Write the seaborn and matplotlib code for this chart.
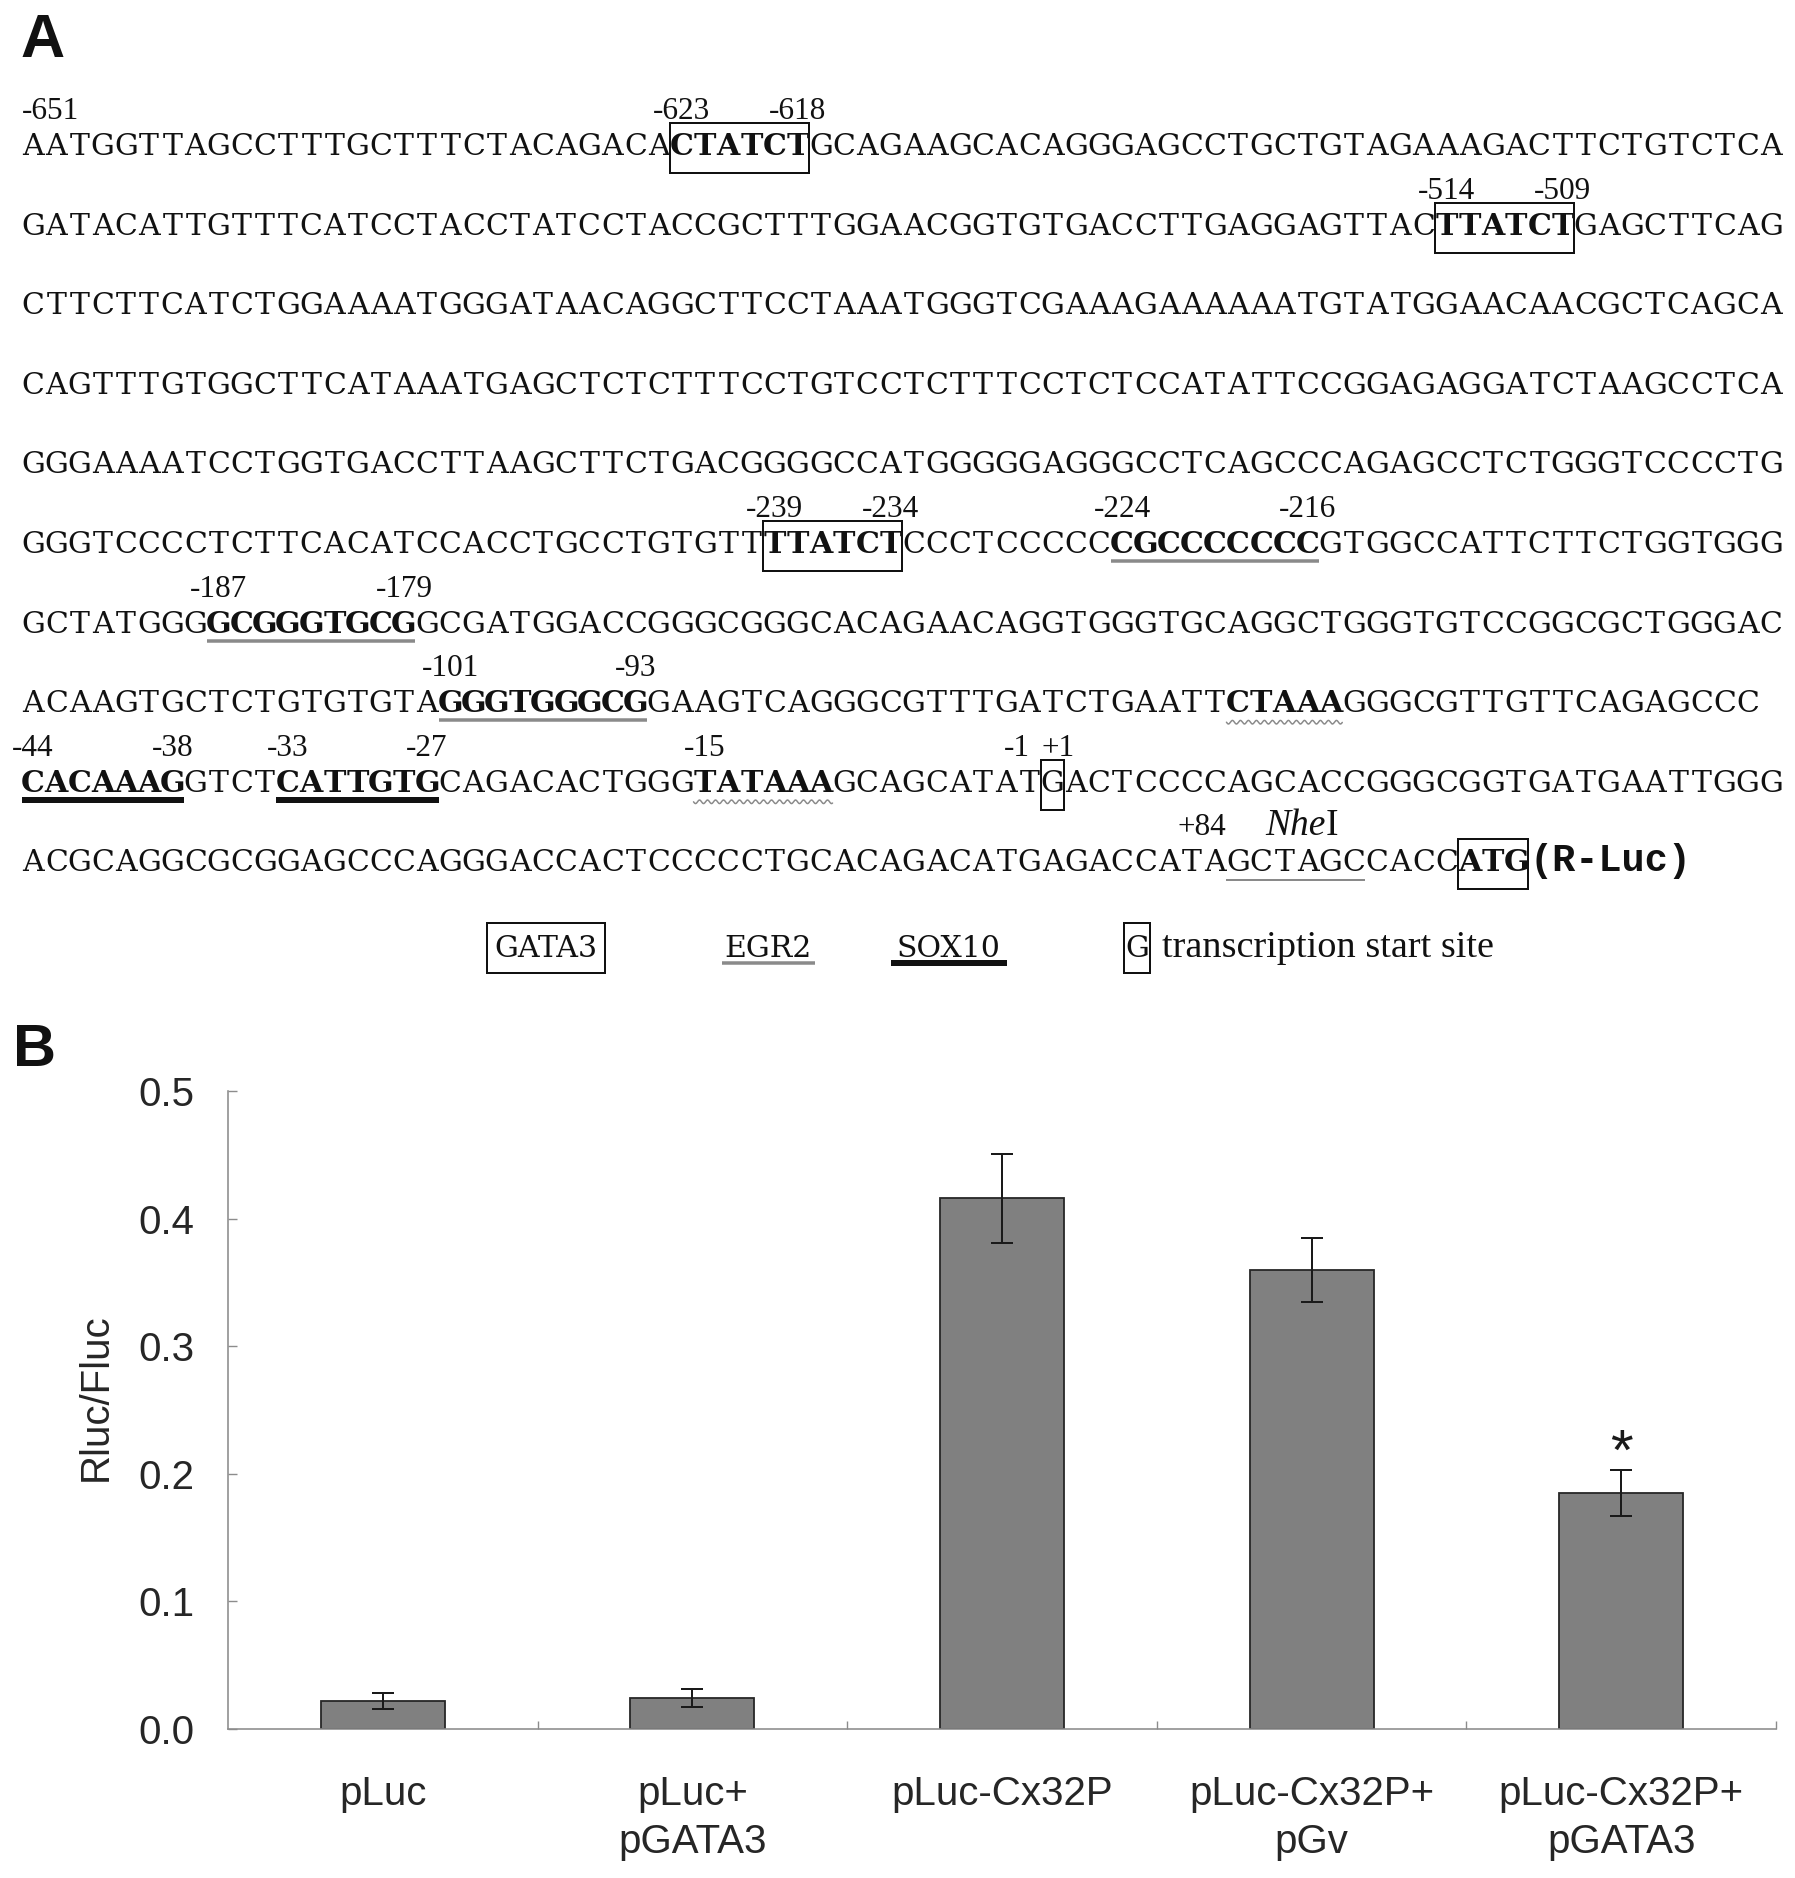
import numpy as np
import matplotlib
matplotlib.use('Agg')
import matplotlib.pyplot as plt
import seaborn as sns
from matplotlib.patches import Rectangle
from matplotlib.ticker import FixedLocator, FormatStrFormatter

# ---- panel A: Cx32 promoter sequence (one string per printed row) ----
seq_rows = [
    'AATGGTTAGCCTTTGCTTTCTACAGACACTATCTGCAGAAGCACAGGGAGCCTGCTGTAGAAAGACTTCTGTCTCA',
    'GATACATTGTTTCATCCTACCTATCCTACCGCTTTGGAACGGTGTGACCTTGAGGAGTTACTTATCTGAGCTTCAG',
    'CTTCTTCATCTGGAAAATGGGATAACAGGCTTCCTAAATGGGTCGAAAGAAAAAATGTATGGAACAACGCTCAGCA',
    'CAGTTTGTGGCTTCATAAATGAGCTCTCTTTCCTGTCCTCTTTCCTCTCCATATTCCGGAGAGGATCTAAGCCTCA',
    'GGGAAAATCCTGGTGACCTTAAGCTTCTGACGGGGCCATGGGGGAGGGCCTCAGCCCAGAGCCTCTGGGTCCCCTG',
    'GGGTCCCCTCTTCACATCCACCTGCCTGTGTTTTATCTCCCTCCCCCCGCCCCCCCGTGGCCATTCTTCTGGTGGG',
    'GCTATGGGGCGGGTGCGGCGATGGACCGGGCGGGCACAGAACAGGTGGGTGCAGGCTGGGTGTCCGGCGCTGGGAC',
    'ACAAGTGCTCTGTGTGTAGGGTGGGCGGAAGTCAGGGCGTTTGATCTGAATTCTAAAGGGCGTTGTTCAGAGCCC',
    'CACAAAGGTCTCATTGTGCAGACACTGGGTATAAAGCAGCATATGACTCCCCAGCACCGGGCGGTGATGAATTGGG',
    'ACGCAGGCGCGGAGCCCAGGGACCACTCCCCCTGCACAGACATGAGACCATAGCTAGCCACCATG',
]
luc_label = '(R-Luc)'

# sites: (row, first char index, length)
gata3_sites = [(0, 28, 6), (1, 61, 6), (5, 32, 6)]
egr2_sites = [(5, 47, 9), (6, 8, 9), (7, 18, 9)]
sox10_sites = [(8, 0, 7), (8, 11, 7)]
tata_sites = [(7, 52, 5), (8, 29, 6)]
tss_site = (8, 44, 1)
atg_site = (9, 62, 3)
nhe_site = (9, 52, 6)

# position numbers: (row, char index, label)
pos_labels = [
    (0, 0, '-651'), (0, 28, '-623'), (0, 33, '-618'),
    (1, 61, '-514'), (1, 66, '-509'),
    (5, 32, '-239'), (5, 37, '-234'), (5, 47, '-224'), (5, 55, '-216'),
    (6, 8, '-187'), (6, 16, '-179'),
    (7, 18, '-101'), (7, 26, '-93'),
    (8, 0, '-44'), (8, 6, '-38'), (8, 11, '-33'), (8, 17, '-27'),
    (8, 29, '-15'), (8, 43, '-1'), (8, 44, '+1'),
    (9, 52, '+84'),
]

legend_names = ['GATA3', 'EGR2', 'SOX10']

# ---- panel B: luciferase assay ----
constructs = ['pLuc', 'pLuc+\npGATA3', 'pLuc-Cx32P', 'pLuc-Cx32P+\npGv',
              'pLuc-Cx32P+\npGATA3']
ratio = [0.022, 0.024, 0.416, 0.360, 0.185]
ratio_err = [0.006, 0.007, 0.035, 0.025, 0.018]
significant = [False, False, False, False, True]

sns.set_theme(style='white')
plt.rcParams['font.family'] = ['Liberation Sans', 'DejaVu Sans']

fig = plt.figure(figsize=(17.95, 18.78), dpi=100)

# full-figure axes in pixel units for the sequence panel
axA = fig.add_axes([0, 0, 1, 1])
axA.set_xlim(0, 1795)
axA.set_ylim(1878, 0)
axA.axis('off')

X0, CW = 21.6, 23.17          # left edge and pitch of sequence characters
Y0, DY = 155, 79.6            # baseline of first row and row spacing
PX = 0.72                     # points per pixel at dpi 100
SEQ_FS = 21.6
NUM_FS = 22.5
seqfont = 'DejaVu Serif'
serif = 'Liberation Serif'
ink = '#111111'


def base(r):
    return Y0 + r * DY


def cx(i):
    return X0 + (i + 0.5) * CW


bold = set()
for r, s, n in gata3_sites + egr2_sites + sox10_sites + tata_sites + [atg_site]:
    for i in range(s, s + n):
        bold.add((r, i))

for r, row in enumerate(seq_rows):
    for i, ch in enumerate(row):
        axA.text(cx(i), base(r), ch, ha='center', va='baseline',
                 family=seqfont, fontsize=SEQ_FS, color=ink,
                 weight='bold' if (r, i) in bold else 'normal')
axA.text(X0 + len(seq_rows[-1]) * CW + 2, base(len(seq_rows) - 1), luc_label,
         ha='left', va='baseline', family='Liberation Mono',
         fontsize=CW / 0.6 * PX, weight='bold', color=ink)

# boxes (GATA3, TSS, ATG)
for r, s, n in gata3_sites + [tss_site, atg_site]:
    axA.add_patch(Rectangle((X0 + s * CW, base(r) - 32), n * CW, 50,
                            fill=False, ec=ink, lw=2 * PX))

# EGR2 gray underline, NheI thin underline
for r, s, n in egr2_sites:
    axA.plot([X0 + s * CW, X0 + (s + n) * CW], [base(r) + 8] * 2,
             color='#8a8a8a', lw=3.5 * PX, solid_capstyle='butt')
r, s, n = nhe_site
axA.plot([X0 + s * CW, X0 + (s + n) * CW], [base(r) + 9] * 2,
         color='#8a8a8a', lw=2 * PX, solid_capstyle='butt')

# SOX10 thick black underline
for r, s, n in sox10_sites:
    axA.plot([X0 + s * CW, X0 + (s + n) * CW], [base(r) + 8] * 2,
             color=ink, lw=6 * PX, solid_capstyle='butt')

# wavy underline for TATA-like boxes
for r, s, n in tata_sites:
    xs = np.linspace(X0 + s * CW, X0 + (s + n) * CW, 200)
    ys = base(r) + 10 + 1.8 * np.sin((xs - xs[0]) / 8.0 * 2 * np.pi)
    axA.plot(xs, ys, color='#8a8a8a', lw=1.5 * PX)

# position numbers
special = {'-651': ('left', 0.0), '-1': ('right', 0.5), '+1': ('left', 0.0),
           '+84': ('right', 0.0)}
for r, i, lab in pos_labels:
    ha, frac = special.get(lab, ('center', 0.5))
    axA.text(X0 + (i + frac) * CW, base(r) - 36, lab, ha=ha, va='baseline',
             family=serif, fontsize=NUM_FS, color=ink)

# NheI label
r, s, n = nhe_site
xm = X0 + (s + n / 2) * CW + 30
axA.text(xm, base(r) - 36, 'Nhe', ha='right', va='baseline', family=serif,
         style='italic', fontsize=27, color=ink)
axA.text(xm, base(r) - 36, 'I', ha='left', va='baseline', family=serif,
         fontsize=27, color=ink)

# legend row
LY = 957
leg_x = [488, 722, 891]
leg_w = [5 * CW, 4 * CW, 5 * CW]
for name, x, w in zip(legend_names, leg_x, leg_w):
    axA.text(x + w / 2, LY, name, ha='center', va='baseline',
             family=seqfont, fontsize=SEQ_FS, color=ink)
axA.add_patch(Rectangle((leg_x[0] - 1, LY - 34), leg_w[0] + 2, 50, fill=False,
                        ec=ink, lw=2 * PX))
axA.plot([leg_x[1], leg_x[1] + leg_w[1]], [LY + 6] * 2, color='#8a8a8a',
         lw=3.5 * PX, solid_capstyle='butt')
axA.plot([leg_x[2], leg_x[2] + leg_w[2]], [LY + 6] * 2, color=ink,
         lw=6 * PX, solid_capstyle='butt')
axA.text(1137, LY, 'G', ha='center', va='baseline', family=seqfont,
         fontsize=SEQ_FS, color=ink)
axA.add_patch(Rectangle((1124, LY - 34), 26, 50, fill=False, ec=ink,
                        lw=2 * PX))
axA.text(1162, LY, 'transcription start site', ha='left', va='baseline',
         family=serif, fontsize=27.5, color=ink)

# panel letters
axA.text(20, 57, 'A', ha='left', va='baseline', fontsize=44, weight='bold',
         family='Liberation Sans', color=ink)
axA.text(13, 1066, 'B', ha='left', va='baseline', fontsize=43, weight='bold',
         family='Liberation Sans', color=ink)

# ---- panel B ----
ax = fig.add_axes([228 / 1795, 149 / 1878, 1548 / 1795, 638 / 1878])
sns.barplot(x=constructs, y=ratio, color='#808080', saturation=1, width=0.4,
            edgecolor='#262626', linewidth=1.8 * PX, errorbar=None, ax=ax)
ax.errorbar(range(len(ratio)), ratio, yerr=ratio_err, fmt='none',
            ecolor='#1a1a1a', elinewidth=2 * PX, capsize=8, capthick=2 * PX)
for k, (v, e, sig) in enumerate(zip(ratio, ratio_err, significant)):
    if sig:
        ax.text(k, v + e + 0.012, '*', ha='center', va='center', fontsize=42,
                color='#1a1a1a')

ax.set_xlim(-0.5, len(ratio) - 0.5)
ax.set_ylim(0, 0.5)
ax.set_yticks([0.0, 0.1, 0.2, 0.3, 0.4, 0.5])
ax.yaxis.set_major_formatter(FormatStrFormatter('%.1f'))
ax.xaxis.set_minor_locator(FixedLocator([k + 0.5 for k in range(len(ratio))]))
for side in ['top', 'right']:
    ax.spines[side].set_visible(False)
for side in ['left', 'bottom']:
    ax.spines[side].set_color('#8c8c8c')
    ax.spines[side].set_linewidth(1.6 * PX)
ax.tick_params(axis='x', which='major', length=0, pad=33, labelsize=29,
               labelcolor='#262626')
ax.tick_params(axis='x', which='minor', direction='in', length=8 * PX,
               width=1.4 * PX, color='#8c8c8c', bottom=True)
ax.tick_params(axis='y', direction='in', length=9 * PX, width=1.4 * PX,
               color='#8c8c8c', pad=24, labelsize=29, labelcolor='#262626',
               left=True)
for lab in ax.get_xticklabels():
    lab.set_linespacing(1.35)
ax.set_ylabel('Rluc/Fluc', fontsize=29, color='#262626')
ax.yaxis.set_label_coords(-0.073, 0.52)
ax.set_xlabel('')

fig.savefig('out.png', dpi=100, facecolor='white')
